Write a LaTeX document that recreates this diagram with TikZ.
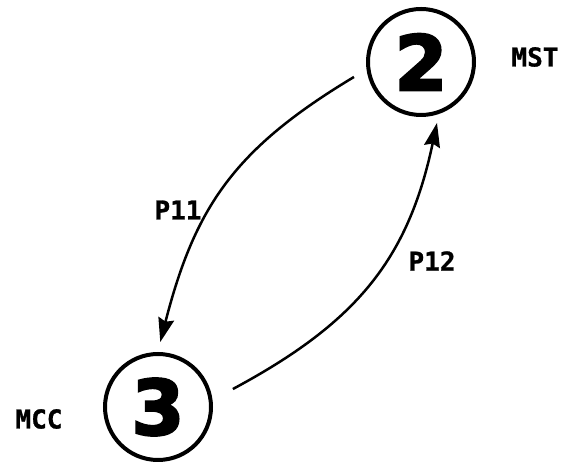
\documentclass[tikz,border=0pt]{standalone}
\usepackage{fontspec}
\usetikzlibrary{arrows.meta,calc}
\newfontfamily\lblfont{DejaVu Sans Mono}[BoldFeatures={FakeBold=1}]
\newfontfamily\digfont{DejaVu Sans}[BoldFeatures={FakeBold=3}]
\begin{document}
\begin{tikzpicture}[x=1pt,y=1pt,
  statenode/.style={circle,draw,line width=4pt,minimum size=106pt,inner sep=0pt,
    font=\digfont\bfseries\fontsize{76}{76}\selectfont},
  lbl/.style={font=\lblfont\bfseries\fontsize{26}{26}\selectfont,inner sep=0pt},
  conn/.style={line width=2.5pt,-{Stealth[length=24pt,width=16pt,inset=3pt]}}]
\useasboundingbox (0,0) rectangle (564,462);
\node[statenode] (n2) at (421,400) {2};
\node[statenode] (n3) at (158,55) {3};
\node[lbl] (mst) at (535,405) {MST};
\node[lbl] (mcc) at (39,43) {MCC};
\coordinate (s1) at ($(n2.center)+(192.6:68.7)$);
\coordinate (e1) at ($(n3.center)+(88:65)$);
\coordinate (s2) at ($(n3.center)+(13.5:77)$);
\coordinate (e2) at ($(n2.center)+(284.7:63)$);
\draw[conn] (s1) .. controls (234,313) and (195,255) .. (e1);
\draw[conn] (s2) .. controls (356,139) and (408,202) .. (e2);
\node[lbl] (p11) at (178,252) {P11};
\node[lbl] (p12) at (432,201) {P12};
\end{tikzpicture}
\end{document}
